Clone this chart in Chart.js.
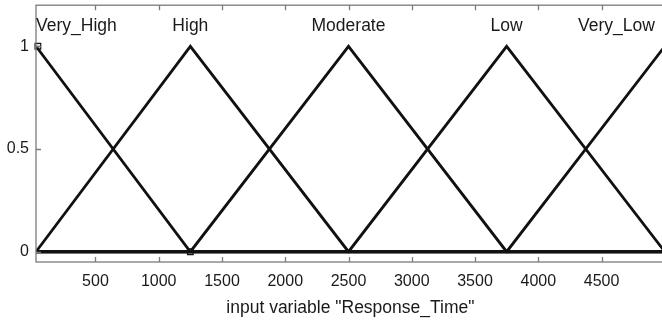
<!DOCTYPE html>
<html>
<head>
<meta charset="utf-8">
<script src="https://cdn.jsdelivr.net/npm/chart.js@4/dist/chart.umd.min.js"></script>
<style>
  html, body { margin: 0; padding: 0; background: #fff; overflow: hidden; }
  #wrap { width: 670px; height: 322px; }
</style>
</head>
<body>
<div id="wrap"><canvas id="mfChart"></canvas></div>
<script>
// membership functions of input variable "Response_Time"
var mfNames = ['Very_High', 'High', 'Moderate', 'Low', 'Very_Low'];
var mfPeaks = [30, 1250, 2500, 3750, 5000];

var veryHighX = [30, 1250, 5000];
var veryHighY = [1, 0, 0];
var highX = [30, 1250, 2500, 5000];
var highY = [0, 1, 0, 0];
var moderateX = [30, 1250, 2500, 3750, 5000];
var moderateY = [0, 0, 1, 0, 0];
var lowX = [30, 2500, 3750, 5000];
var lowY = [0, 0, 1, 0];
var veryLowX = [30, 3750, 5000];
var veryLowY = [0, 0, 1];

// vertices of the selected MF (square markers)
var markerX = [45, 1250];
var markerY = [1, 0];

var xTicks = [500, 1000, 1500, 2000, 2500, 3000, 3500, 4000, 4500];
var yTicks = [0, 0.5, 1];

function toPoints(xs, ys) {
    return xs.map(function (x, i) { return { x: x, y: ys[i] }; });
}

function mfDataset(xs, ys) {
    return {
        data: toPoints(xs, ys),
        borderColor: '#111',
        borderWidth: 2.8,
        pointRadius: 0,
        tension: 0
    };
}

var FONT = '"Liberation Sans", Arial, Helvetica, sans-serif';

var framePlugin = {
    id: 'frame',
    afterDatasetsDraw: function (chart) {
        var ctx = chart.ctx;
        var a = chart.chartArea;
        var xs = chart.scales.x;
        var ys = chart.scales.y;
        ctx.save();
        ctx.strokeStyle = '#7a7a7a';
        ctx.lineWidth = 1.3;
        ctx.strokeRect(a.left, a.top, a.right - a.left, a.bottom - a.top);
        ctx.beginPath();
        xTicks.forEach(function (t) {
            var px = Math.round(xs.getPixelForValue(t)) + 0.5;
            ctx.moveTo(px, a.bottom);
            ctx.lineTo(px, a.bottom - 5);
            ctx.moveTo(px, a.top);
            ctx.lineTo(px, a.top + 5);
        });
        yTicks.forEach(function (t) {
            var py = Math.round(ys.getPixelForValue(t)) + 0.5;
            ctx.moveTo(a.left, py);
            ctx.lineTo(a.left + 5, py);
        });
        ctx.stroke();

        // MF names above the peaks
        ctx.fillStyle = '#1a1a1a';
        ctx.font = '17.5px ' + FONT;
        ctx.textAlign = 'center';
        ctx.textBaseline = 'middle';
        var py = ys.getPixelForValue(1.1);
        mfNames.forEach(function (name, i) {
            var w = ctx.measureText(name).width;
            var cx = xs.getPixelForValue(mfPeaks[i]);
            cx = Math.max(cx, a.left + w / 2);
            cx = Math.min(cx, a.right - 10 - w / 2);
            ctx.fillText(name, cx, py);
        });
        ctx.restore();
    }
};

var ctx = document.getElementById('mfChart').getContext('2d');
var mfChart = new Chart(ctx, {
    type: 'line',
    data: {
        datasets: [
            mfDataset(veryHighX, veryHighY),
            mfDataset(highX, highY),
            mfDataset(moderateX, moderateY),
            mfDataset(lowX, lowY),
            mfDataset(veryLowX, veryLowY),
            {
                data: toPoints(markerX, markerY),
                showLine: false,
                pointStyle: 'rect',
                pointRadius: 4,
                pointBackgroundColor: '#e8e8e8',
                pointBorderColor: '#111',
                pointBorderWidth: 1.2,
                clip: false
            }
        ]
    },
    options: {
        responsive: true,
        maintainAspectRatio: false,
        animation: false,
        layout: { padding: { top: 4, right: 2, left: 0, bottom: 0 } },
        plugins: {
            legend: { display: false },
            tooltip: { enabled: false }
        },
        scales: {
            x: {
                type: 'linear',
                min: 30,
                max: 5000,
                afterBuildTicks: function (scale) {
                    scale.ticks = xTicks.map(function (v) { return { value: v }; });
                },
                afterFit: function (scale) {
                    scale.height = 60;
                    scale.paddingLeft = 0;
                    scale.paddingRight = 0;
                },
                grid: { display: false, drawTicks: false },
                border: { display: false },
                ticks: {
                    padding: 10,
                    maxRotation: 0,
                    color: '#1a1a1a',
                    font: { family: FONT, size: 16 },
                    callback: function (v) { return String(v); }
                },
                title: {
                    display: true,
                    text: 'input variable "Response_Time"',
                    color: '#1a1a1a',
                    font: { family: FONT, size: 17.5 },
                    padding: { top: 0, bottom: 3 }
                }
            },
            y: {
                min: -0.05,
                max: 1.2,
                afterBuildTicks: function (scale) {
                    scale.ticks = yTicks.map(function (v) { return { value: v }; });
                },
                afterFit: function (scale) {
                    scale.width = 36;
                    scale.paddingTop = 0;
                    scale.paddingBottom = 0;
                },
                grid: { display: false, drawTicks: false },
                border: { display: false },
                ticks: {
                    padding: 7,
                    color: '#1a1a1a',
                    font: { family: FONT, size: 16 },
                    callback: function (v) { return String(v); }
                }
            }
        }
    },
    plugins: [framePlugin]
});
</script>
</body>
</html>
